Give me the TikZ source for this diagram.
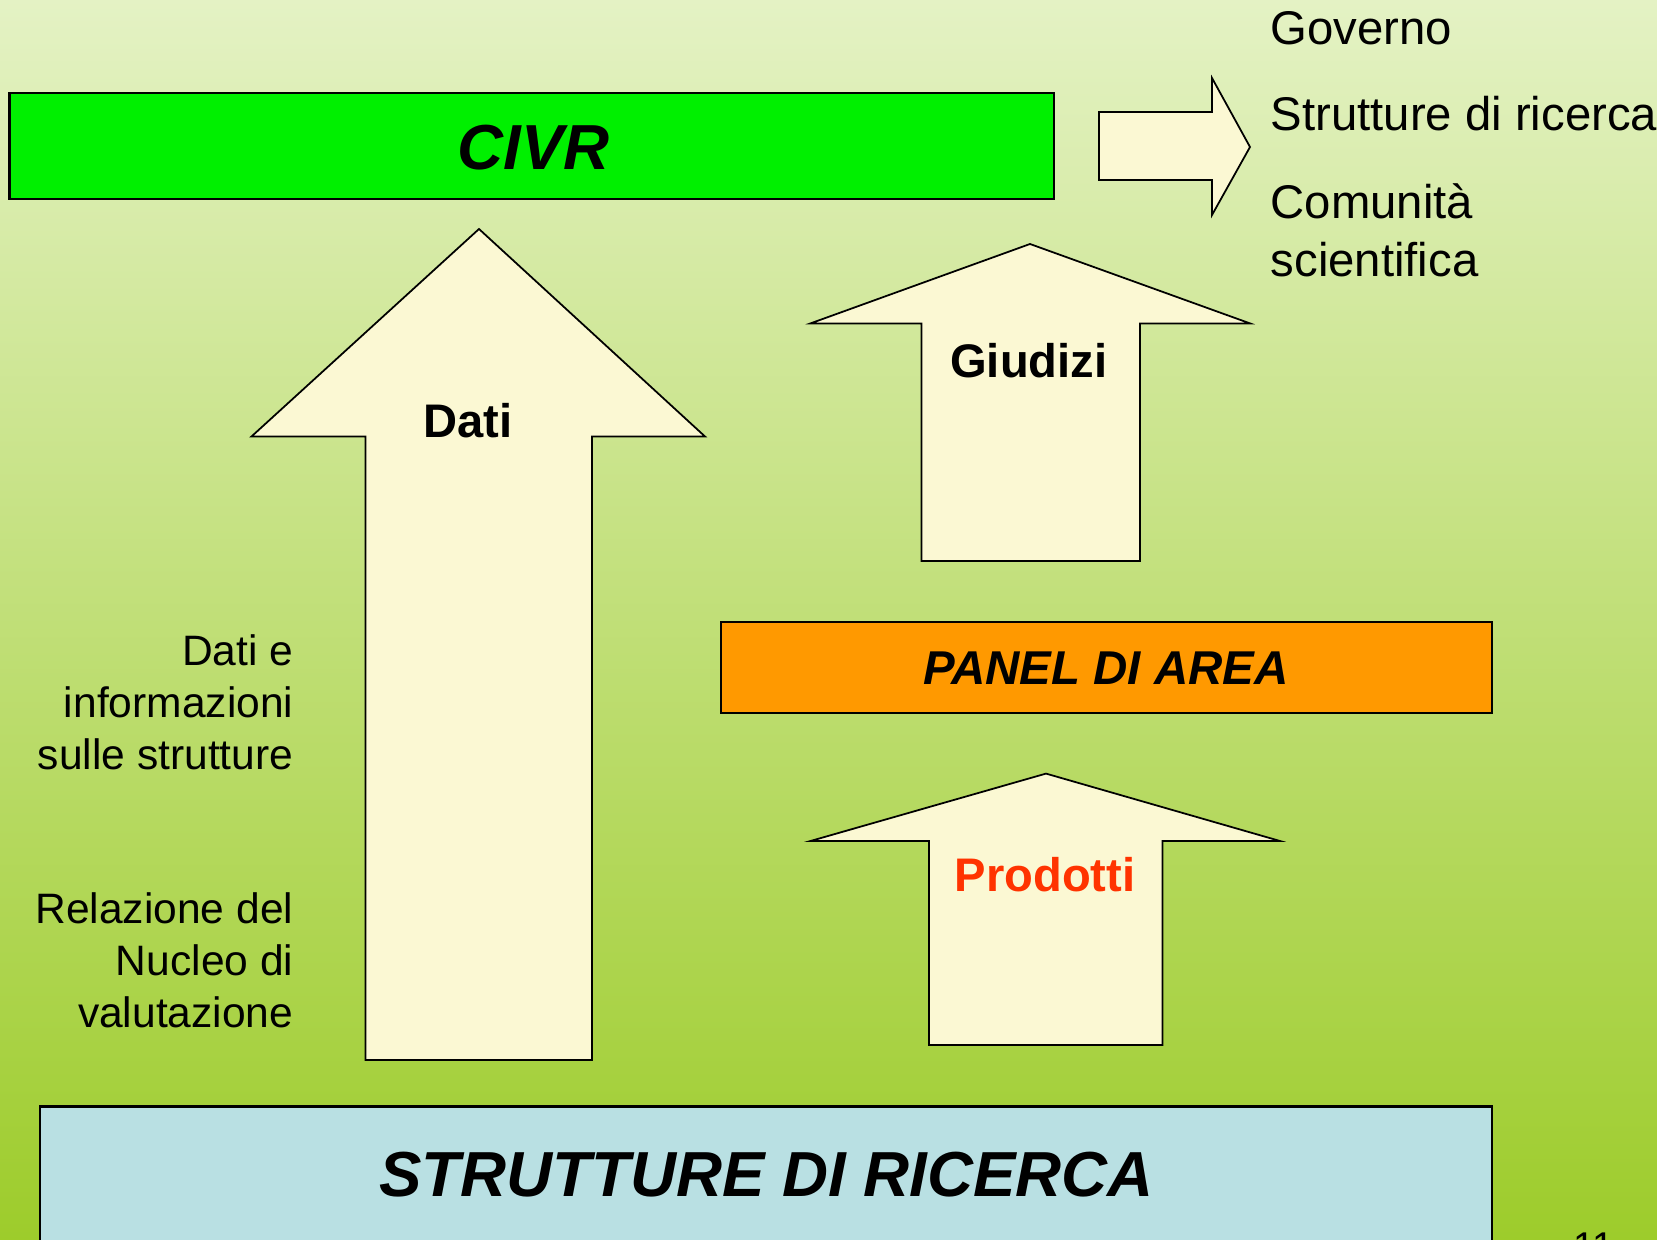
\documentclass[tikz,border=0pt]{standalone}
\usepackage{fontspec}
\setmainfont{Liberation Sans}
\definecolor{bgtop}{RGB}{228,242,196}
\definecolor{bgbot}{RGB}{157,204,43}
\definecolor{civrgreen}{RGB}{0,240,0}
\definecolor{panelorange}{RGB}{255,153,0}
\definecolor{strutblue}{RGB}{185,224,227}
\definecolor{cream}{RGB}{251,248,211}
\definecolor{prodred}{RGB}{255,51,0}
\begin{document}
\begin{tikzpicture}[x=0.01cm, y=-0.01cm,
  shape line/.style={draw=black, line width=0.5pt, fill=cream},
  box line/.style={draw=black, line width=0.6pt},
  big title/.style={font=\fontsize{18.1}{22}\selectfont\bfseries\itshape, inner sep=0pt},
  label bold/.style={font=\fontsize{13.4}{16}\selectfont\bfseries, inner sep=0pt},
  side text/.style={font=\fontsize{12.1}{14.8}\selectfont, inner sep=0pt, align=right, anchor=north east},
  target text/.style={font=\fontsize{13.45}{16.5}\selectfont, inner sep=0pt, align=left}]
  \useasboundingbox (0,0) rectangle (1657,1240);
  \clip (0,0) rectangle (1657,1240);
  \shade[top color=bgtop, bottom color=bgbot] (0,0) rectangle (1657,1240);

  \draw[box line, fill=civrgreen] (9.5,93) rectangle (1054,199);
  \node[big title] (civr) at (533.7,147.4) {CIVR};

  \draw[shape line] (1099,112) -- (1212,112) -- (1212,78) -- (1250,147)
    -- (1212,215) -- (1212,180) -- (1099,180) -- cycle;
  \node[target text, anchor=base west] (governo) at (1270,45) {Governo};
  \node[target text, anchor=base west] (ricerca) at (1270,131) {Strutture di ricerca};
  \node[target text, anchor=north west] (comunita) at (1270,183) {Comunità\\scientifica};

  \draw[shape line] (479,229) -- (705,436.5) -- (592,436.5) -- (592,1060)
    -- (365.6,1060) -- (365.6,436.5) -- (251.5,436.5) -- cycle;
  \node[label bold] (dati) at (467.6,420.6) {Dati};

  \draw[shape line] (1030,244) -- (1250,323.4) -- (1140,323.4) -- (1140,561)
    -- (921.5,561) -- (921.5,323.4) -- (810.5,323.4) -- cycle;
  \node[label bold] (giudizi) at (1028.8,360.4) {Giudizi};

  \draw[box line, fill=panelorange] (721,622) rectangle (1492,713);
  \node[big title, font=\fontsize{13.5}{16}\selectfont\bfseries\itshape] (panel) at (1106,668.4) {PANEL DI AREA};

  \draw[shape line] (1046,773.6) -- (1280,841) -- (1162.5,841) -- (1162.5,1045)
    -- (929,1045) -- (929,841) -- (810.5,841) -- cycle;
  \node[label bold, text=prodred] (prodotti) at (1045,874.5) {Prodotti};

  \node[side text] (datiinfo) at (294,634) {Dati e\\informazioni\\sulle strutture};
  \node[side text] (relazione) at (294,891.5) {Relazione del\\Nucleo di\\valutazione};

  \draw[box line, fill=strutblue] (40,1106.5) rectangle (1492,1280);
  \node[big title] (strutture) at (766.7,1175) {STRUTTURE DI RICERCA};

  \node[font=\fontsize{11}{13}\selectfont, inner sep=0pt, anchor=north west] (pagina) at (1573,1232) {11};
\end{tikzpicture}
\end{document}
